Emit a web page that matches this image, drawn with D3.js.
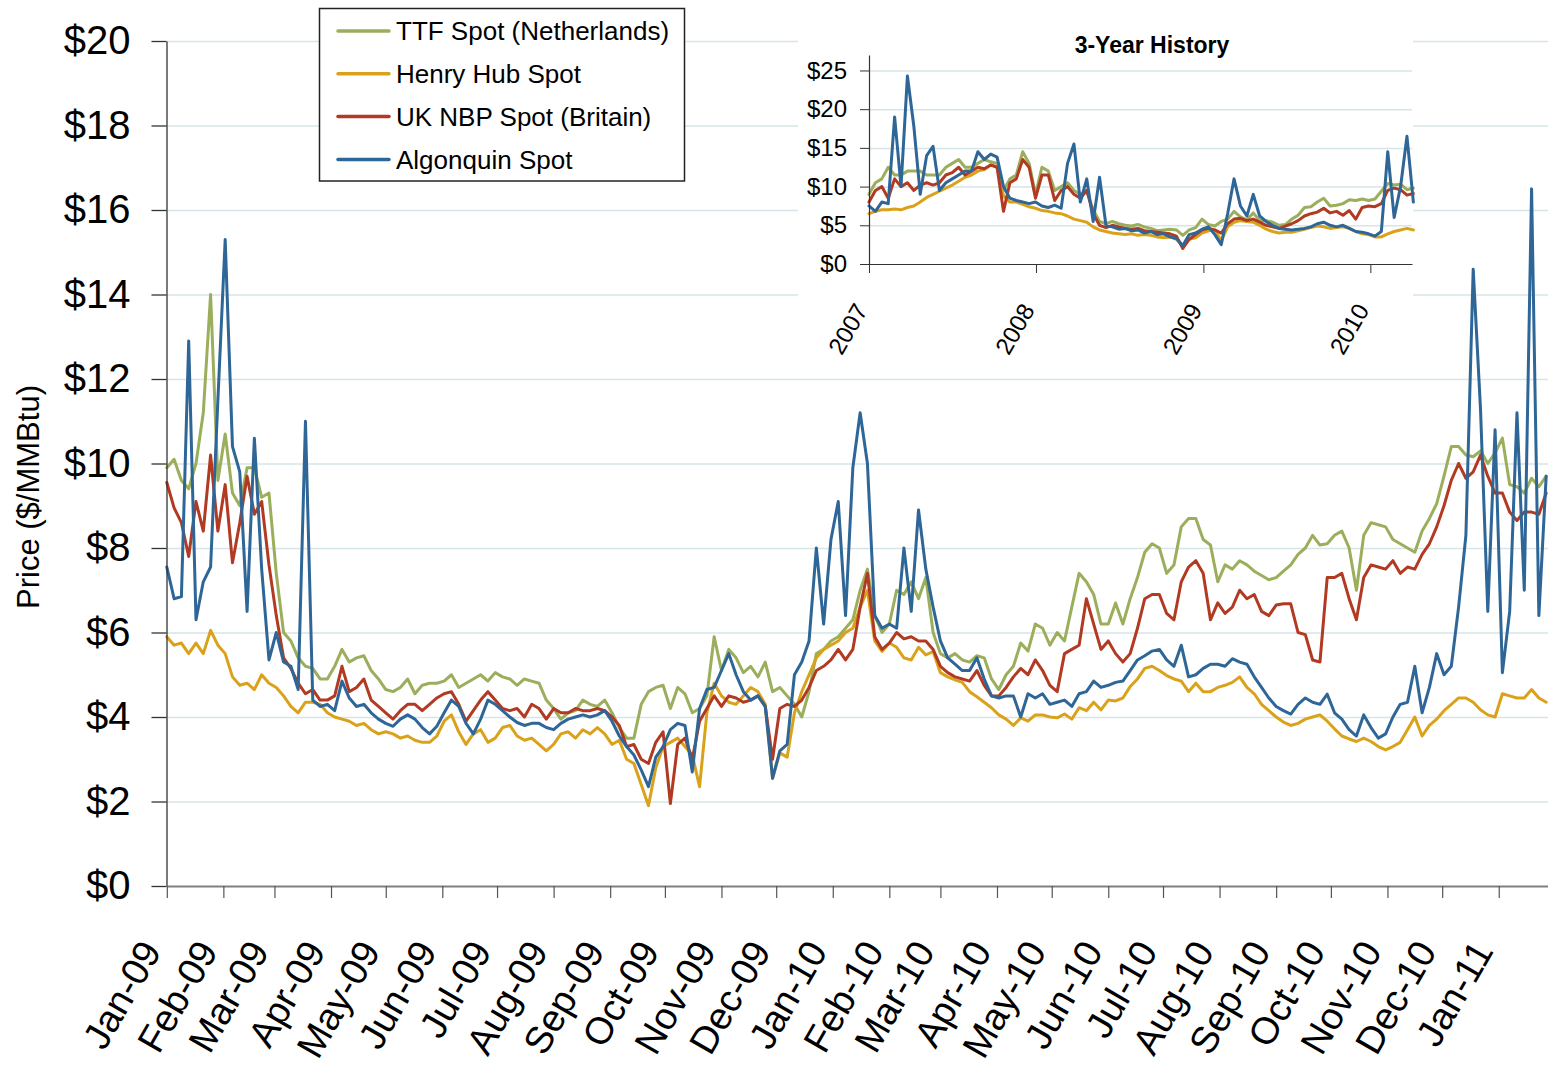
<!DOCTYPE html>
<html lang="en">
<head>
  <meta charset="UTF-8">
  <title>Natural Gas Spot Prices</title>
  <script src="https://d3js.org/d3.v7.min.js"></script>
  <style>
    body {
      margin: 0;
      background: #fff;
    }
    svg {
      display: block;
      font-family: "Liberation Sans", Arial, sans-serif;
    }
    .grid line {
      stroke: #d6e5e7;
      stroke-width: 1.5;
    }
    .grid path {
      display: none;
    }
    .series {
      fill: none;
      stroke-linejoin: round;
      stroke-linecap: round;
    }
  </style>
</head>
<body>
  <svg width="1548" height="1066"></svg>

  <script>
    // ---- data: main chart, one reading every 4 days from 1 Jan 2009 ----
    const mainStart = new Date(2009, 0, 1);
    const mainStep = 4;

    const ttf = [
      9.9, 10.1, 9.6, 9.4, 10.0, 11.2, 14.0, 9.6, 10.7, 9.3,
      9.0, 9.9, 9.9, 9.2, 9.3, 7.4, 6.0, 5.8, 5.4, 5.2,
      5.15, 4.9, 4.9, 5.2, 5.6, 5.3, 5.4, 5.45, 5.1, 4.9,
      4.65, 4.6, 4.7, 4.9, 4.55, 4.75, 4.8, 4.8, 4.85, 5.0,
      4.7, 4.8, 4.9, 5.0, 4.85, 5.05, 4.95, 4.9, 4.75, 4.9,
      4.85, 4.8, 4.4, 4.2, 3.95, 4.1, 4.15, 4.4, 4.3, 4.25,
      4.4, 4.1, 3.75, 3.5, 3.5, 4.3, 4.6, 4.7, 4.75, 4.2,
      4.7, 4.55, 4.1, 4.2, 4.5, 5.9, 5.1, 5.6, 5.4, 5.05,
      5.2, 4.95, 5.3, 4.6, 4.7, 4.5, 4.3, 4.0, 4.6, 5.5,
      5.6, 5.8, 5.9, 6.1, 6.3, 7.0, 7.5, 6.4, 6.0, 6.2,
      7.0, 6.9, 7.2, 6.8, 7.3, 6.0, 5.5, 5.4, 5.5, 5.35,
      5.3, 5.45, 5.4, 4.9, 4.65, 5.0, 5.2, 5.75, 5.56, 6.2,
      6.1, 5.7, 6.0, 5.8, 6.6, 7.4, 7.2, 6.9, 6.2, 6.2,
      6.7, 6.2, 6.8, 7.3, 7.9, 8.1, 8.0, 7.4, 7.6, 8.5,
      8.7, 8.7, 8.2, 8.07, 7.2, 7.6, 7.5, 7.7, 7.6, 7.45,
      7.35, 7.25, 7.3, 7.45, 7.6, 7.85, 8.0, 8.3, 8.07, 8.1,
      8.3, 8.4, 8.0, 7.0, 8.3, 8.6, 8.55, 8.5, 8.2, 8.1,
      8.0, 7.9, 8.4, 8.7, 9.05, 9.7, 10.4, 10.4, 10.2, 10.16,
      10.3, 10.0, 10.25, 10.6, 9.5, 9.45, 9.3, 9.65, 9.45, 9.7
    ];

    const henryHub = [
      5.9, 5.7, 5.75, 5.5, 5.75, 5.5, 6.05, 5.7, 5.5, 4.95,
      4.75, 4.8, 4.65, 5.0, 4.8, 4.7, 4.5, 4.25, 4.1, 4.35,
      4.35, 4.3, 4.1, 4.0, 3.95, 3.9, 3.8, 3.85, 3.7, 3.6,
      3.65, 3.6, 3.5, 3.55, 3.45, 3.4, 3.4, 3.55, 3.9, 4.05,
      3.65, 3.35, 3.6, 3.7, 3.4, 3.5, 3.75, 3.8, 3.55, 3.45,
      3.5, 3.35, 3.2, 3.35, 3.6, 3.65, 3.5, 3.7, 3.6, 3.75,
      3.6, 3.35, 3.45, 3.0, 2.9, 2.4, 1.9, 2.8, 3.3, 3.4,
      3.5, 3.3, 3.1, 2.35, 4.1, 4.8, 4.5, 4.35, 4.3, 4.5,
      4.7, 4.6, 4.3, 2.55, 3.15, 3.05, 4.1, 4.6, 5.0, 5.4,
      5.6, 5.7, 5.8, 6.0, 6.1, 6.6, 7.0, 5.8, 5.55, 5.75,
      5.65, 5.4, 5.35, 5.65, 5.47, 5.55, 5.05, 4.95, 4.88, 4.82,
      4.6, 4.48, 4.35, 4.22, 4.05, 3.95, 3.8, 3.98, 3.9, 4.05,
      4.05, 4.0, 3.98, 4.07, 3.95, 4.22, 4.15, 4.35, 4.17, 4.4,
      4.38, 4.45, 4.72, 4.9, 5.15, 5.2, 5.1, 4.98, 4.9, 4.85,
      4.6, 4.8, 4.6, 4.6, 4.7, 4.75, 4.82, 4.95, 4.7, 4.55,
      4.3, 4.15, 4.0, 3.88, 3.8, 3.85, 3.95, 4.0, 4.05, 3.9,
      3.72, 3.55, 3.48, 3.42, 3.5, 3.42, 3.3, 3.22, 3.3, 3.4,
      3.7, 4.0, 3.55, 3.8, 3.95, 4.15, 4.3, 4.45, 4.45, 4.35,
      4.17, 4.05, 4.0, 4.55, 4.5, 4.45, 4.45, 4.65, 4.45, 4.35
    ];

    const ukNbp = [
      9.55, 8.95, 8.6, 7.8, 9.1, 8.4, 10.2, 8.4, 9.5, 7.65,
      8.6, 9.7, 8.8, 9.1, 7.6, 6.4, 5.4, 5.15, 4.8, 4.55,
      4.65, 4.4, 4.4, 4.5, 5.2, 4.6, 4.7, 4.9, 4.4, 4.25,
      4.1, 3.95, 4.15, 4.3, 4.3, 4.15, 4.3, 4.45, 4.55, 4.6,
      4.3, 3.9, 4.15, 4.4, 4.6, 4.4, 4.2, 4.15, 4.2, 4.0,
      4.3, 4.2, 3.95, 4.2, 4.1, 4.1, 4.2, 4.15, 4.15, 4.2,
      4.15, 4.0, 3.8, 3.3, 3.35, 3.0, 2.9, 3.4, 3.65, 1.95,
      3.35, 3.5, 3.0, 3.9, 4.2, 4.5, 4.25, 4.5, 4.45, 4.35,
      4.4, 4.5, 4.25, 3.0, 4.2, 4.3, 4.25, 4.4, 4.7, 5.1,
      5.2, 5.35, 5.6, 5.35, 5.6, 6.6, 7.4, 5.9, 5.6, 5.75,
      6.0, 5.85, 5.9, 5.8, 5.8, 5.6, 5.2, 5.05, 4.95, 4.9,
      4.85, 5.1, 4.75, 4.5, 4.5, 4.7, 4.95, 5.15, 5.0, 5.35,
      5.1, 4.75, 4.6, 5.5, 5.6, 5.7, 6.8, 6.2, 5.6, 5.8,
      5.5, 5.3, 5.5, 6.1, 6.8, 6.9, 6.9, 6.45, 6.3, 7.2,
      7.55, 7.7, 7.4, 6.3, 6.7, 6.45, 6.6, 7.0, 6.8, 6.9,
      6.5, 6.4, 6.65, 6.68, 6.68, 6.0, 5.95, 5.35, 5.3, 7.3,
      7.3, 7.4, 6.8, 6.3, 7.3, 7.6, 7.55, 7.5, 7.7, 7.4,
      7.55, 7.5, 7.85, 8.1, 8.5, 9.0, 9.6, 10.0, 9.65, 9.8,
      10.2, 9.7, 9.3, 9.3, 8.85, 8.65, 8.85, 8.85, 8.8, 9.3
    ];

    const algonquin = [
      7.55, 6.8, 6.85, 12.9, 6.3, 7.2, 7.55, 11.5, 15.3, 10.4,
      9.8, 6.5, 10.6, 7.5, 5.35, 6.0, 5.3, 5.2, 4.65, 11.0,
      4.4, 4.25, 4.3, 4.15, 4.85, 4.45, 4.25, 4.3, 4.1, 3.95,
      3.85, 3.78, 3.95, 4.05, 3.95, 3.75, 3.6, 3.78, 4.1, 4.4,
      4.25, 3.85, 3.6, 3.95, 4.4, 4.3, 4.15, 4.0, 3.87, 3.8,
      3.85, 3.85, 3.75, 3.7, 3.85, 3.95, 4.0, 4.05, 4.0, 4.05,
      4.15, 3.9, 3.55, 3.3, 3.1, 2.75, 2.35, 3.05, 3.3, 3.7,
      3.85, 3.8, 2.7, 4.2, 4.65, 4.7, 5.1, 5.5, 5.0, 4.6,
      4.4, 4.5, 4.25, 2.55, 3.2, 3.35, 5.0, 5.3, 5.8, 8.0,
      6.2, 8.2, 9.1, 6.4, 9.9, 11.2, 10.0, 6.4, 6.1, 6.2,
      6.1, 8.0, 6.5, 8.9, 7.5, 6.6, 5.8, 5.4, 5.25, 5.1,
      5.1, 5.4, 4.9, 4.5, 4.45, 4.5, 4.5, 4.0, 4.55, 4.45,
      4.55, 4.3, 4.35, 4.4, 4.25, 4.55, 4.6, 4.85, 4.7, 4.75,
      4.82, 4.85, 5.1, 5.35, 5.45, 5.56, 5.6, 5.35, 5.2, 5.7,
      4.95, 5.0, 5.15, 5.25, 5.25, 5.2, 5.38, 5.3, 5.25, 4.95,
      4.7, 4.45, 4.25, 4.15, 4.07, 4.3, 4.45, 4.35, 4.3, 4.54,
      4.1, 3.95, 3.7, 3.55, 4.05, 3.75, 3.5, 3.6, 4.0, 4.3,
      4.35, 5.2, 4.1, 4.7, 5.5, 5.0, 5.2, 6.6, 8.3, 14.6,
      11.3, 6.5, 10.8, 5.05, 6.5, 11.2, 7.0, 16.5, 6.4, 9.7
    ];

    // ---- data: inset "3-Year History", one reading every 14 days from 1 Jan 2007 ----
    const insetStart = new Date(2007, 0, 1);
    const insetStep = 14;

    const insetTtf = [
      9.0, 10.5, 11.0, 12.5, 11.5, 11.5, 12.0, 12.0, 12.0, 11.5,
      11.5, 11.5, 12.5, 13.0, 13.5, 12.5, 12.5, 13.0, 13.5, 13.2,
      13.0, 9.5, 11.0, 11.5, 14.5, 13.0, 9.0, 12.5, 12.0, 9.5,
      10.0, 10.5, 9.5, 9.0, 9.5, 7.0, 5.5, 5.2, 5.5, 5.2,
      5.0, 4.9, 5.1, 4.8, 4.6, 4.3, 4.4, 4.5, 4.4, 3.7,
      4.4, 4.7, 5.8, 5.1, 4.9, 5.5, 5.8, 6.8, 6.1, 5.7,
      6.6, 5.6, 5.6, 5.4, 5.0, 5.1, 5.8, 6.3, 7.3, 7.4,
      8.0, 8.5, 7.5, 7.6, 7.8, 8.3, 8.2, 8.4, 8.2, 8.4,
      9.4, 10.4, 10.2, 10.3, 9.6, 9.8
    ];

    const insetHenryHub = [
      6.5, 6.8, 7.0, 7.0, 7.1, 7.0, 7.3, 7.5, 8.0, 8.6,
      9.0, 9.4, 9.8, 10.2, 10.7, 11.2, 11.5, 12.0, 12.2, 12.8,
      12.5, 8.8, 8.0, 8.0, 7.7, 7.4, 7.2, 6.9, 6.8, 6.6,
      6.5, 6.2, 5.8, 5.6, 5.4, 4.8, 4.4, 4.2, 4.0, 3.9,
      3.8, 3.9, 3.7, 3.8, 3.7, 3.5, 3.4, 3.5, 3.2, 2.3,
      3.2, 3.4, 4.0, 4.3, 4.4, 3.0, 4.8, 5.4, 5.6, 5.5,
      5.4, 5.0, 4.5, 4.2, 4.0, 4.1, 4.1, 4.3, 4.5, 4.7,
      4.9, 4.8, 4.6, 4.7, 4.8, 4.6, 4.2, 3.9, 3.8, 3.5,
      3.5, 3.9, 4.2, 4.4, 4.6, 4.4
    ];

    const insetUkNbp = [
      8.0, 9.5, 10.0, 8.5, 11.0, 10.0, 10.5, 9.5, 10.2, 10.5,
      10.2, 10.5, 11.5, 11.8, 12.5, 11.5, 12.0, 12.5, 12.3, 12.8,
      12.5, 6.8, 10.5, 11.0, 13.5, 12.5, 8.5, 11.5, 11.5, 8.2,
      9.5, 10.0, 9.0, 8.5, 9.5, 6.5, 5.0, 4.7, 5.0, 4.8,
      4.6, 4.5, 4.6, 4.3, 4.2, 4.1, 4.0, 3.9, 3.6, 2.0,
      3.2, 3.8, 4.4, 4.6, 4.4, 4.0, 5.2, 5.8, 5.9, 5.6,
      5.8, 5.4, 5.0, 4.8, 4.6, 4.9, 5.2, 5.6, 6.2, 6.5,
      6.7, 7.2, 6.6, 6.8, 6.3, 6.9, 5.8, 7.3, 7.5, 7.4,
      7.8, 9.5, 9.8, 9.6, 8.9, 9.1
    ];

    const insetAlgonquin = [
      7.5, 6.8, 8.0, 7.8, 19.0, 10.0, 24.3, 17.8, 9.0, 14.0,
      15.2, 9.5, 10.5, 11.0, 11.5, 12.0, 12.0, 14.5, 13.5, 14.2,
      13.8, 10.0, 8.5, 8.2, 8.0, 7.8, 8.0, 7.5, 7.3, 7.6,
      7.2, 13.0, 15.5, 8.0, 11.0, 5.5, 11.2, 5.0, 4.8, 4.5,
      4.6, 4.3, 4.4, 4.0, 4.2, 3.8, 3.9, 3.5, 3.3, 2.4,
      3.8, 4.0, 4.5, 4.8, 3.8, 2.5, 6.5, 11.0, 7.5, 6.2,
      9.0, 6.2, 5.5, 5.0, 4.6, 4.5, 4.4, 4.5, 4.6, 4.8,
      5.2, 5.4, 5.0, 4.8, 5.0, 4.6, 4.2, 4.1, 3.9, 3.6,
      4.2, 14.5, 6.0, 10.0, 16.5, 8.0
    ];

    const seriesNames = ["TTF Spot (Netherlands)", "Henry Hub Spot", "UK NBP Spot (Britain)", "Algonquin Spot"];
    const yTicks = [0, 2, 4, 6, 8, 10, 12, 14, 16, 18, 20];
    const insetYTicks = [0, 5, 10, 15, 20, 25];

    // colours, in the same order as seriesNames
    const colors = ["#9bae5c", "#daa21a", "#b23a22", "#2e6697"];

    const mainSeries = [ttf, henryHub, ukNbp, algonquin];
    const insetSeries = [insetTtf, insetHenryHub, insetUkNbp, insetAlgonquin];

    const svg = d3.select("svg");

    // ---------- main chart ----------
    const x = d3.scaleTime()
      .domain([mainStart, d3.timeDay.offset(mainStart, 757)])
      .range([166.8, 1548]);
    const y = d3.scaleLinear().domain([0, 20]).range([886, 41]);

    const monthTicks = d3.timeMonth.range(mainStart, new Date(2011, 0, 2));

    svg.append("g")
      .attr("class", "grid")
      .attr("transform", "translate(166.5,0)")
      .call(d3.axisLeft(y).tickValues(yTicks.slice(1)).tickSize(-1382).tickFormat(""));

    const line = d3.line()
      .x(d => x(d.date))
      .y(d => y(d.value));

    const toPoints = (values, start, step) =>
      values.map((v, i) => ({ date: d3.timeDay.offset(start, i * step), value: v }));

    svg.append("g")
      .selectAll("path")
      .data(mainSeries)
      .enter()
      .append("path")
      .attr("class", "series")
      .attr("stroke", (d, i) => colors[i])
      .attr("stroke-width", 3)
      .attr("d", d => line(toPoints(d, mainStart, mainStep)));

    // y axis
    const yAxis = svg.append("g")
      .attr("transform", "translate(166.5,0)")
      .call(d3.axisLeft(y).tickValues(yTicks).tickSize(15).tickPadding(21).tickSizeOuter(0).tickFormat(d => "$" + d));
    yAxis.select(".domain").attr("stroke", "#333").attr("stroke-width", 1.3);
    yAxis.selectAll(".tick line").attr("stroke", "#333").attr("stroke-width", 1.3);
    yAxis.selectAll("text")
      .attr("font-size", 40)
      .attr("fill", "#000")
      .attr("font-family", "'Liberation Sans', Arial, sans-serif");

    // x axis
    const xAxis = svg.append("g")
      .attr("transform", "translate(0,886)")
      .call(d3.axisBottom(x).tickValues(monthTicks).tickSize(12).tickSizeOuter(0).tickFormat(d3.timeFormat("%b-%y")));
    xAxis.select(".domain").attr("stroke", "#808080").attr("stroke-width", 2);
    xAxis.selectAll(".tick line").attr("stroke", "#555").attr("stroke-width", 1.2);
    xAxis.selectAll("text")
      .attr("font-size", 38)
      .attr("fill", "#000")
      .attr("font-family", "'Liberation Sans', Arial, sans-serif")
      .attr("text-anchor", "end")
      .attr("x", 0)
      .attr("y", 0)
      .attr("dy", 0)
      .attr("transform", "translate(-5,65) rotate(-60)");

    svg.append("text")
      .attr("transform", "translate(39,497) rotate(-90)")
      .attr("text-anchor", "middle")
      .attr("font-size", 31)
      .text("Price ($/MMBtu)");

    // ---------- legend ----------
    const legend = svg.append("g");
    legend.append("rect")
      .attr("x", 319.5).attr("y", 8.5)
      .attr("width", 365).attr("height", 172.5)
      .attr("fill", "#fff")
      .attr("stroke", "#222")
      .attr("stroke-width", 1.5);

    const legendRows = legend.selectAll(".row")
      .data(seriesNames)
      .enter()
      .append("g")
      .attr("transform", (d, i) => `translate(0,${31 + i * 42.8})`);
    legendRows.append("line")
      .attr("x1", 338).attr("x2", 389)
      .attr("stroke", (d, i) => colors[i])
      .attr("stroke-width", 3.5)
      .attr("stroke-linecap", "round");
    legendRows.append("text")
      .attr("x", 396)
      .attr("dy", "0.35em")
      .attr("font-size", 26)
      .text(d => d);

    // ---------- inset ----------
    const inset = svg.append("g");
    inset.append("rect")
      .attr("x", 798).attr("y", 12)
      .attr("width", 615).attr("height", 348)
      .attr("fill", "#fff");

    const ix = d3.scaleTime()
      .domain([insetStart, new Date(2010, 3, 2)])
      .range([869, 1412]);
    const iy = d3.scaleLinear().domain([0, 27]).range([264, 55]);

    inset.append("g")
      .attr("class", "grid")
      .attr("transform", "translate(869,0)")
      .call(d3.axisLeft(iy).tickValues(insetYTicks.slice(1)).tickSize(-543).tickFormat(""));

    const iline = d3.line()
      .x(d => ix(d.date))
      .y(d => iy(d.value));

    inset.append("g")
      .selectAll("path")
      .data(insetSeries)
      .enter()
      .append("path")
      .attr("class", "series")
      .attr("stroke", (d, i) => colors[i])
      .attr("stroke-width", 3)
      .attr("d", d => iline(toPoints(d, insetStart, insetStep)));

    const iyAxis = inset.append("g")
      .attr("transform", "translate(869,0)")
      .call(d3.axisLeft(iy).tickValues(insetYTicks).tickSize(9).tickPadding(13).tickSizeOuter(0).tickFormat(d => "$" + d));
    iyAxis.select(".domain").attr("stroke", "#333").attr("stroke-width", 1.2);
    iyAxis.selectAll(".tick line").attr("stroke", "#333");
    iyAxis.selectAll("text")
      .attr("font-size", 24)
      .attr("fill", "#000")
      .attr("font-family", "'Liberation Sans', Arial, sans-serif");

    const ixAxis = inset.append("g")
      .attr("transform", "translate(0,264)")
      .call(d3.axisBottom(ix).ticks(d3.timeYear.every(1)).tickSize(9).tickSizeOuter(0).tickFormat(d3.timeFormat("%Y")));
    ixAxis.select(".domain").attr("stroke", "#333").attr("stroke-width", 1.2);
    ixAxis.selectAll(".tick line").attr("stroke", "#333");
    ixAxis.selectAll("text")
      .attr("font-size", 24)
      .attr("fill", "#000")
      .attr("font-family", "'Liberation Sans', Arial, sans-serif")
      .attr("text-anchor", "end")
      .attr("x", 0)
      .attr("y", 0)
      .attr("dy", 0)
      .attr("transform", "translate(-1,46) rotate(-60)");

    inset.append("text")
      .attr("x", 1152)
      .attr("y", 53)
      .attr("text-anchor", "middle")
      .attr("font-size", 23)
      .attr("font-weight", "bold")
      .text("3-Year History");
  </script>
</body>
</html>
